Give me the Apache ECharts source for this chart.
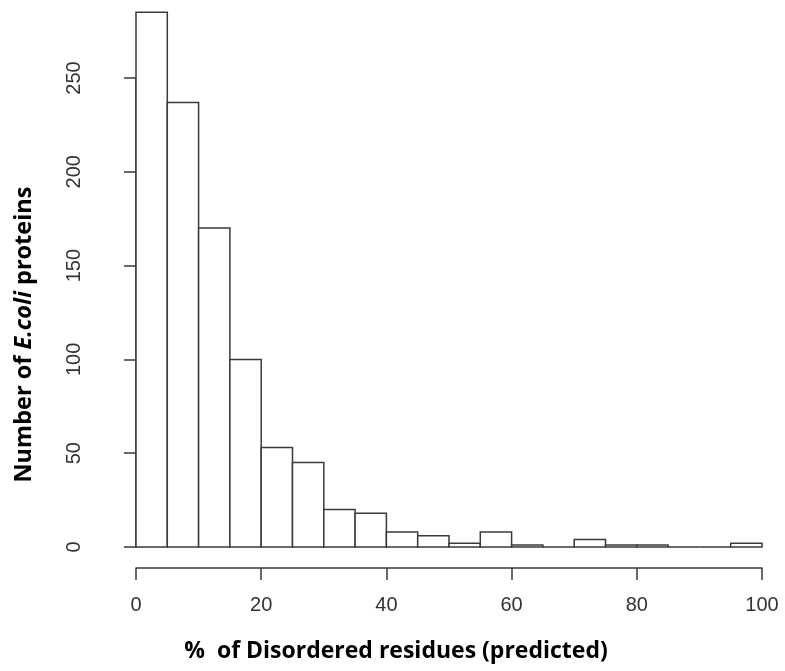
<!DOCTYPE html>
<html>
<head>
<meta charset="utf-8">
<script src="https://cdn.jsdelivr.net/npm/echarts@6/dist/echarts.min.js"></script>
<style>
  html, body { margin: 0; padding: 0; background: #fff; }
  #chart { width: 785px; height: 671px; }
</style>
</head>
<body>
<div id="chart"></div>
<script>
// Histogram bins (percentage of predicted disordered residues)
const binEdges = [0, 5, 10, 15, 20, 25, 30, 35, 40, 45, 50, 55, 60, 65, 70, 75, 80, 85, 90, 95, 100];
// Number of E. coli proteins in each bin
const counts = [285, 237, 170, 100, 53, 45, 20, 18, 8, 6, 2, 8, 1, 0, 4, 1, 1, 0, 0, 2];
// Axis tick values
const xTicks = [0, 20, 40, 60, 80, 100];
const yTicks = [0, 50, 100, 150, 200, 250];

const bins = counts.map((c, i) => [binEdges[i], binEdges[i + 1], c]);

const ink = '#3a3a3a';
const titleFont = '"Open Sans", Lato, sans-serif';
const tickFont = '"Liberation Sans", Arial, sans-serif';

const chart = echarts.init(document.getElementById('chart'), null, { renderer: 'canvas' });
chart.setOption({
  backgroundColor: '#fff',
  animation: false,
  grid: { left: 136, right: 23, top: 78, bottom: 124, containLabel: false },
  xAxis: {
    type: 'value',
    min: xTicks[0],
    max: xTicks[xTicks.length - 1],
    interval: xTicks[1] - xTicks[0],
    offset: 21,
    splitLine: { show: false },
    axisLine: { show: true, onZero: false, lineStyle: { color: ink, width: 1.5 } },
    axisTick: { show: true, length: 12, inside: false, lineStyle: { color: ink, width: 1.5 } },
    axisLabel: { color: '#333', fontFamily: tickFont, fontSize: 20, margin: 27 },
    name: '%  of Disordered residues (predicted)',
    nameLocation: 'middle',
    nameGap: 72,
    nameTextStyle: {
      color: '#000', fontFamily: titleFont, fontWeight: 'bold', fontSize: 23,
      padding: [0, 106, 0, 0]
    }
  },
  yAxis: {
    type: 'value',
    min: yTicks[0],
    max: yTicks[yTicks.length - 1],
    interval: yTicks[1] - yTicks[0],
    offset: 25,
    splitLine: { show: false },
    axisLine: { show: true, lineStyle: { color: ink, width: 1.5 } },
    axisTick: { show: true, length: 12, inside: false, lineStyle: { color: ink, width: 1.5 } },
    axisLabel: { color: '#333', fontFamily: tickFont, fontSize: 20, rotate: 90, margin: 27 },
    name: '{n|Number of }{i|E.coli}{n| proteins}',
    nameLocation: 'middle',
    nameRotate: 90,
    nameGap: 75,
    nameTextStyle: {
      padding: [0, 44, 0, 0],
      rich: {
        n: { color: '#000', fontFamily: titleFont, fontWeight: 'bold', fontSize: 23.5 },
        i: { color: '#000', fontFamily: titleFont, fontWeight: 'bold', fontStyle: 'italic', fontSize: 23.5 }
      }
    }
  },
  series: [{
    type: 'custom',
    clip: false,
    data: bins,
    encode: { x: [0, 1], y: 2 },
    renderItem: function (params, api) {
      const topLeft = api.coord([api.value(0), api.value(2)]);
      const bottomRight = api.coord([api.value(1), 0]);
      return {
        type: 'rect',
        shape: {
          x: topLeft[0],
          y: topLeft[1],
          width: bottomRight[0] - topLeft[0],
          height: bottomRight[1] - topLeft[1]
        },
        style: { fill: '#fff', stroke: ink, lineWidth: 1.5 }
      };
    }
  }]
});
</script>
</body>
</html>
